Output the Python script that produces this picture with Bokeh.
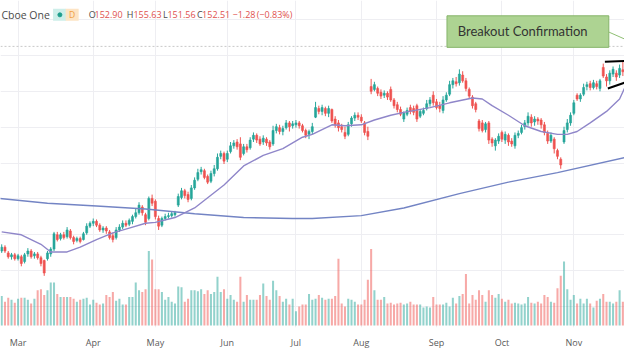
from bokeh.plotting import figure
from bokeh.models import ColumnDataSource, Range1d, FixedTicker, Span
from bokeh.core.properties import value
from bokeh.embed import file_html
from bokeh.resources import INLINE

# ---------------- data ----------------
bar_idx = list(range(1, 192))

opens = [
    115.0, 115.8, 114.6, 113.8, 114.2, 113.4, 113.8, 112.8, 114.4, 115.0,
    114.0, 114.4, 113.6, 113.0, 113.4, 114.4, 115.4, 118.4, 117.6, 118.4,
    118.0, 119.2, 117.8, 117.2, 117.6, 117.4, 118.8, 120.2, 120.8, 121.2,
    120.4, 119.4, 119.8, 119.0, 118.2, 117.8, 119.4, 120.0, 120.8, 120.6,
    121.2, 122.2, 123.0, 124.2, 122.6, 121.8, 126.0, 125.4, 121.8, 120.4,
    121.8, 122.2, 122.4, 122.6, 124.6, 126.2, 127.6, 126.8, 126.0, 128.2,
    130.0, 131.6, 131.8, 130.6, 129.6, 131.2, 132.2, 134.8, 135.4, 134.2,
    135.8, 137.0, 137.8, 137.4, 135.4, 136.8, 136.6, 138.4, 139.2, 138.4,
    137.8, 138.4, 137.8, 137.4, 140.2, 140.8, 140.0, 140.8, 141.8, 141.2,
    141.4, 141.8, 141.2, 140.2, 139.4, 140.0, 143.0, 144.8, 144.2, 144.8,
    143.8, 144.6, 142.6, 141.8, 141.0, 139.8, 139.4, 141.6, 142.8, 143.4,
    143.0, 141.8, 140.0, 149.4, 148.8, 149.0, 148.2, 147.6, 148.0, 148.8,
    146.6, 145.6, 144.6, 142.6, 143.6, 145.0, 144.8, 145.4, 143.2, 143.8,
    144.8, 145.8, 147.6, 146.2, 145.4, 144.4, 146.6, 147.8, 149.8, 150.4,
    150.2, 151.8, 150.6, 148.8, 147.2, 145.8, 142.2, 141.8, 140.4, 141.8,
    138.4, 137.0, 138.0, 139.8, 138.2, 139.2, 138.0, 137.0, 139.2, 139.8,
    141.0, 141.8, 143.0, 142.0, 142.6, 142.4, 141.4, 139.6, 138.0, 138.4,
    136.0, 134.2, 137.8, 140.4, 141.8, 143.8, 147.6, 146.8, 147.8, 149.4,
    150.0, 149.2, 150.0, 149.0, 153.4, 151.4, 150.6, 152.0, 152.2, 151.8,
    152.9]

highs = [
    116.4, 116.2, 115.0, 114.6, 114.6, 114.4, 114.2, 114.6, 115.6, 115.4,
    114.8, 114.8, 114.0, 113.2, 115.0, 115.8, 119.0, 119.0, 118.8, 119.0,
    120.0, 119.6, 118.2, 118.0, 118.0, 119.0, 120.8, 121.2, 121.8, 121.6,
    120.8, 120.2, 120.2, 119.4, 118.8, 120.0, 120.6, 121.4, 121.4, 121.8,
    122.6, 123.8, 125.2, 124.6, 123.0, 126.4, 126.8, 125.8, 122.4, 122.2,
    122.8, 123.0, 123.2, 123.4, 127.0, 128.2, 128.0, 127.4, 128.8, 130.4,
    132.2, 132.6, 132.2, 131.0, 131.8, 133.0, 135.4, 136.0, 135.8, 136.0,
    137.8, 138.2, 138.4, 138.8, 137.4, 137.4, 138.8, 139.8, 139.6, 139.0,
    139.2, 138.8, 138.2, 141.2, 141.6, 141.4, 141.2, 142.4, 142.2, 142.2,
    142.4, 142.2, 141.6, 140.6, 140.4, 141.8, 146.2, 145.4, 145.6, 145.2,
    145.4, 144.8, 143.2, 142.4, 141.6, 141.0, 142.0, 143.2, 144.0, 144.0,
    143.6, 142.2, 141.0, 151.0, 150.4, 149.4, 148.8, 148.6, 148.4, 149.4,
    147.0, 146.2, 145.2, 144.2, 145.0, 145.6, 145.4, 145.8, 144.6, 145.0,
    146.6, 147.2, 148.4, 146.8, 146.2, 147.4, 148.2, 150.6, 151.2, 151.4,
    153.0, 152.6, 151.2, 149.2, 147.6, 146.2, 142.6, 142.4, 142.0, 142.2,
    138.8, 138.6, 139.6, 140.2, 140.0, 139.6, 138.6, 139.8, 140.2, 141.4,
    142.4, 144.0, 143.6, 143.2, 143.0, 142.8, 142.0, 140.2, 139.8, 138.8,
    136.4, 134.6, 141.0, 142.6, 144.0, 146.6, 148.0, 148.0, 150.0, 150.4,
    150.6, 150.8, 150.6, 151.0, 154.2, 152.0, 152.8, 153.6, 152.8, 154.0,
    154.6]

lows = [
    114.6, 114.6, 113.4, 113.2, 113.0, 113.0, 111.8, 112.4, 113.8, 113.4,
    113.4, 113.2, 111.8, 109.8, 113.0, 113.8, 115.0, 117.0, 117.2, 117.4,
    117.6, 117.4, 116.4, 116.8, 116.6, 117.2, 118.4, 119.8, 120.2, 120.0,
    119.0, 118.8, 118.6, 117.4, 116.8, 117.4, 119.0, 119.6, 120.0, 120.2,
    120.6, 121.8, 122.6, 122.4, 120.4, 121.4, 124.4, 121.6, 119.4, 120.0,
    121.4, 121.8, 122.0, 122.2, 124.2, 125.8, 126.0, 125.2, 125.6, 127.8,
    129.6, 131.0, 130.0, 129.0, 129.2, 130.6, 131.8, 134.2, 133.2, 133.6,
    135.4, 136.4, 136.2, 134.0, 135.0, 135.6, 136.2, 137.8, 137.6, 137.0,
    137.2, 137.0, 136.2, 137.0, 139.6, 139.4, 139.2, 140.4, 140.0, 140.6,
    140.8, 140.6, 139.8, 138.6, 138.4, 139.4, 142.8, 143.6, 143.4, 143.2,
    143.0, 141.8, 140.8, 140.0, 139.8, 138.4, 139.0, 141.0, 142.2, 142.4,
    141.8, 139.2, 138.2, 147.8, 148.4, 147.4, 146.8, 147.0, 146.6, 146.2,
    144.8, 144.0, 143.2, 142.0, 143.2, 143.6, 143.4, 142.0, 142.8, 143.4,
    144.4, 145.2, 145.4, 144.6, 144.0, 143.8, 146.2, 147.4, 149.0, 149.4,
    149.6, 150.2, 148.4, 146.8, 144.8, 144.0, 140.0, 139.8, 139.8, 137.4,
    136.8, 136.0, 137.4, 137.8, 137.4, 137.0, 136.8, 136.4, 138.6, 139.4,
    140.4, 141.2, 141.0, 141.2, 141.4, 140.6, 139.2, 137.4, 137.6, 135.4,
    134.2, 132.2, 137.4, 139.8, 141.2, 143.4, 146.4, 146.2, 147.4, 148.6,
    148.6, 148.8, 148.8, 148.4, 151.2, 149.4, 149.8, 151.4, 150.6, 151.2,
    151.6]

closes = [
    115.8, 115.0, 113.8, 114.2, 113.4, 114.0, 112.4, 114.2, 115.0, 113.8,
    114.4, 113.6, 112.4, 110.4, 114.6, 115.4, 118.6, 117.4, 118.4, 117.8,
    119.4, 117.8, 117.0, 117.6, 117.0, 118.6, 120.2, 120.8, 121.2, 120.4,
    119.4, 119.8, 119.2, 117.8, 117.4, 119.4, 120.0, 120.8, 120.4, 121.4,
    122.2, 123.0, 124.6, 123.0, 121.0, 126.0, 125.0, 122.2, 120.2, 121.8,
    122.2, 122.4, 122.8, 123.0, 126.4, 127.6, 126.6, 125.8, 128.2, 129.8,
    131.4, 132.0, 130.4, 129.4, 131.2, 132.2, 134.6, 135.4, 133.8, 135.4,
    137.0, 137.6, 136.8, 134.6, 136.8, 136.2, 138.2, 139.2, 138.2, 137.4,
    138.6, 137.6, 136.8, 140.2, 141.0, 140.0, 140.6, 141.8, 141.0, 141.6,
    141.8, 141.2, 140.2, 139.2, 140.0, 141.0, 145.0, 144.2, 145.0, 143.8,
    144.8, 142.2, 141.4, 140.8, 140.4, 139.0, 141.4, 142.8, 143.4, 143.0,
    142.2, 139.8, 139.0, 148.4, 149.8, 148.0, 147.4, 148.0, 147.2, 146.6,
    145.4, 144.6, 143.6, 143.8, 144.4, 144.2, 144.0, 142.6, 144.2, 144.4,
    145.8, 146.6, 146.0, 145.0, 144.8, 146.6, 147.6, 149.8, 150.6, 150.0,
    152.0, 150.6, 149.0, 147.4, 145.4, 144.6, 140.6, 140.2, 141.6, 138.2,
    137.6, 138.2, 139.0, 138.4, 139.4, 137.8, 137.4, 139.2, 139.6, 140.8,
    141.8, 143.2, 141.8, 142.6, 142.2, 141.4, 139.8, 138.0, 139.2, 136.4,
    134.8, 133.0, 140.2, 141.8, 143.4, 146.0, 146.8, 147.6, 149.2, 149.8,
    149.2, 150.2, 149.4, 150.6, 151.6, 150.6, 152.2, 153.0, 151.4, 153.2,
    152.5]

# volume in thousands of shares
volumes = [
    620, 500, 580, 540, 480, 560, 580, 580, 540,
    460, 560, 740, 760, 640, 740, 900, 900, 660, 600,
    600, 600, 600, 560, 500, 540, 560, 580, 440, 540,
    480, 440, 460, 640, 600, 700, 520, 560, 440, 440,
    600, 600, 900, 740, 700, 760,
    1560, 1380,
    760, 760, 700, 540, 600, 500, 460, 820, 800, 500,
    560, 740, 740, 720, 760, 660, 740, 660, 700, 1020,
    700, 760, 560, 640, 540, 500, 1020, 500, 640, 540,
    540, 540, 640, 880, 620, 540, 940, 740, 620, 500,
    560, 440, 560, 300, 400, 440, 440, 660, 540, 560,
    640, 580, 540, 560, 560, 620,
    1400,
    460, 400, 560, 540, 500, 440, 440, 540, 960,
    1600,
    740, 540, 540, 600, 460, 480, 440, 460, 480, 440,
    460, 500, 440, 440, 440, 380, 400, 380, 600, 440,
    440, 440, 480, 400, 580, 460, 620, 660,
    1080,
    460, 640, 540, 740, 640, 500, 740, 640, 580, 660,
    560, 500, 540, 460, 480, 460, 440, 460, 600, 480,
    460, 500, 460, 640, 600, 500, 480, 780, 1040,
    1340,
    760, 540, 640, 460, 560, 460, 560, 460, 380, 520,
    560, 660, 500, 500, 460, 500, 740, 500]

# moving averages (bar index, value)
ma20_x = [1, 7, 13, 16, 21, 25, 30, 35, 40, 45, 48, 54, 60, 69, 75, 81, 87, 93, 96,
          102, 106, 111, 115, 120, 124, 132, 138, 145, 148, 151, 156, 161, 166, 171,
          174, 177, 181, 186, 190, 192]
ma20_v = [119.0, 118.4, 116.4, 114.8, 114.8, 115.8, 117.4, 118.8, 119.8, 120.8, 121.0,
          122.0, 124.0, 128.8, 132.8, 135.0, 136.4, 138.8, 139.4, 141.4, 141.2, 141.4,
          142.4, 143.4, 144.0, 145.0, 146.0, 147.0, 146.8, 145.4, 143.4, 141.2, 140.0,
          139.4, 139.4, 140.0, 141.8, 144.2, 146.8, 149.8]
ma200_x = [0, 15, 30, 45, 60, 75, 90, 96, 111, 124, 141, 156, 171, 192]
ma200_v = [126.0, 125.0, 124.4, 123.8, 122.8, 122.0, 121.8, 121.8, 122.4, 124.0,
           127.0, 129.4, 131.4, 134.6]

month_idx = [6, 29, 48, 70, 91, 111, 134, 154, 176]
month_lbl = ["Mar", "Apr", "May", "Jun", "Jul", "Aug", "Sep", "Oct", "Nov"]

price_grid = [103.4, 110.9, 118.4, 125.9, 133.4, 140.9, 148.4, 155.9, 163.4]

hdr_text = ["O", "152.90", "H", "155.63", "L", "151.56", "C", "152.51", "\u22121.28", "(\u22120.83%)"]
hdr_x = [27.6, 29.4, 39.25, 41.3, 50.3, 51.7, 60.75, 62.3, 71.6, 79.0]
hdr_col = ["#4a4a4a", "#e0514e", "#4a4a4a", "#e0514e", "#4a4a4a", "#e0514e",
           "#4a4a4a", "#e0514e", "#e0514e", "#e0514e"]

# ---------------- figure ----------------
UP, DOWN = "#26a69a", "#ef5350"
cols = [UP if c >= o else DOWN for o, c in zip(opens, closes)]

src = ColumnDataSource(dict(
    x=bar_idx, o=opens, h=highs, l=lows, c=closes, v=volumes, col=cols,
    top=[max(o, c) for o, c in zip(opens, closes)],
    bot=[min(o, c) for o, c in zip(opens, closes)],
))

p = figure(frame_width=624, frame_height=327,
           x_range=Range1d(0.63, 191.5), y_range=Range1d(99.0, 167.4),
           output_backend="svg", toolbar_location=None, min_border=0,
           background_fill_color="white", border_fill_color="white")
p.outline_line_color = None
p.extra_y_ranges = {"vol": Range1d(-40, 6800)}

p.yaxis.visible = False
p.xaxis.ticker = FixedTicker(ticks=month_idx)
p.xaxis.major_label_overrides = {m: l for m, l in zip(month_idx, month_lbl)}
p.xaxis.axis_line_color = None
p.xaxis.major_tick_line_color = None
p.xaxis.minor_tick_line_color = None
p.xaxis.major_label_standoff = 2
p.xaxis.major_label_text_font_size = "9px"
p.xaxis.major_label_text_font = "Open Sans"
p.xaxis.major_label_text_color = "#5a5a5a"

p.xgrid.grid_line_color = "#eeeef2"
p.ygrid.grid_line_color = "#eeeef2"
p.ygrid.ticker = FixedTicker(ticks=price_grid)

p.add_layout(Span(location=157.8, dimension="width", line_color="#c9c9c9",
                  line_dash="2 2", line_width=1, level="underlay"))

# volume
p.vbar(x="x", top="v", bottom=0, width=0.62, source=src, y_range_name="vol",
       fill_color="col", line_color=None, fill_alpha=0.5)

# candles
p.segment(x0="x", y0="l", x1="x", y1="h", color="col", line_width=1, source=src)
p.vbar(x="x", top="top", bottom="bot", width=0.62, fill_color="col",
       line_color="col", line_width=0.6, source=src)

# moving averages
p.line(ma200_x, ma200_v, line_color="#7384c4", line_width=1.4)
p.line(ma20_x, ma20_v, line_color="#8f86c9", line_width=1.4)

# trend lines (triangle)
p.line([185.5, 193.0], [154.6, 154.8], line_color="black", line_width=2)
p.line([186.4, 193.0], [149.0, 150.55], line_color="black", line_width=2)

# header
p.text(x=[0.9], y=[164.4], text=["Cboe One"], text_font=value("Open Sans"),
       text_font_size="10.5px", text_color="#4a4a4a", text_baseline="middle")
p.rect(x=[18.7], y=[164.4], width=13, height=12, width_units="screen",
       height_units="screen", fill_color="#cdeee9", line_color=None)
p.rect(x=[22.55], y=[164.4], width=13, height=12, width_units="screen",
       height_units="screen", fill_color="#fde4c4", line_color=None)
p.scatter(x=[18.8], y=[164.4], size=4, color="#1f9e8c")
p.text(x=[22.5], y=[164.4], text=["D"], text_font=value("Open Sans"),
       text_font_size="8.5px", text_color="#f0a040", text_align="center",
       text_baseline="middle")
hsrc = ColumnDataSource(dict(x=hdr_x, y=[164.4] * len(hdr_x), t=hdr_text, c=hdr_col))
p.text(x="x", y="y", text="t", text_color="c", source=hsrc,
       text_font=value("Open Sans"), text_font_size="9px", text_baseline="middle")

# callout box
p.quad(left=[137.2], right=[186.7], top=[164.2], bottom=[157.6],
       fill_color="#add392", fill_alpha=1.0, line_color="#86b46a", line_width=1)
p.line([186.7, 193.0], [160.8, 158.9], line_color="#8fbf73", line_width=1)
p.text(x=[140.5], y=[161.0], text=["Breakout Confirmation"], text_font=value("Lato"),
       text_font_size="13px", text_color="#333333", text_baseline="middle")

open("out.html", "w").write(file_html(p, INLINE))
